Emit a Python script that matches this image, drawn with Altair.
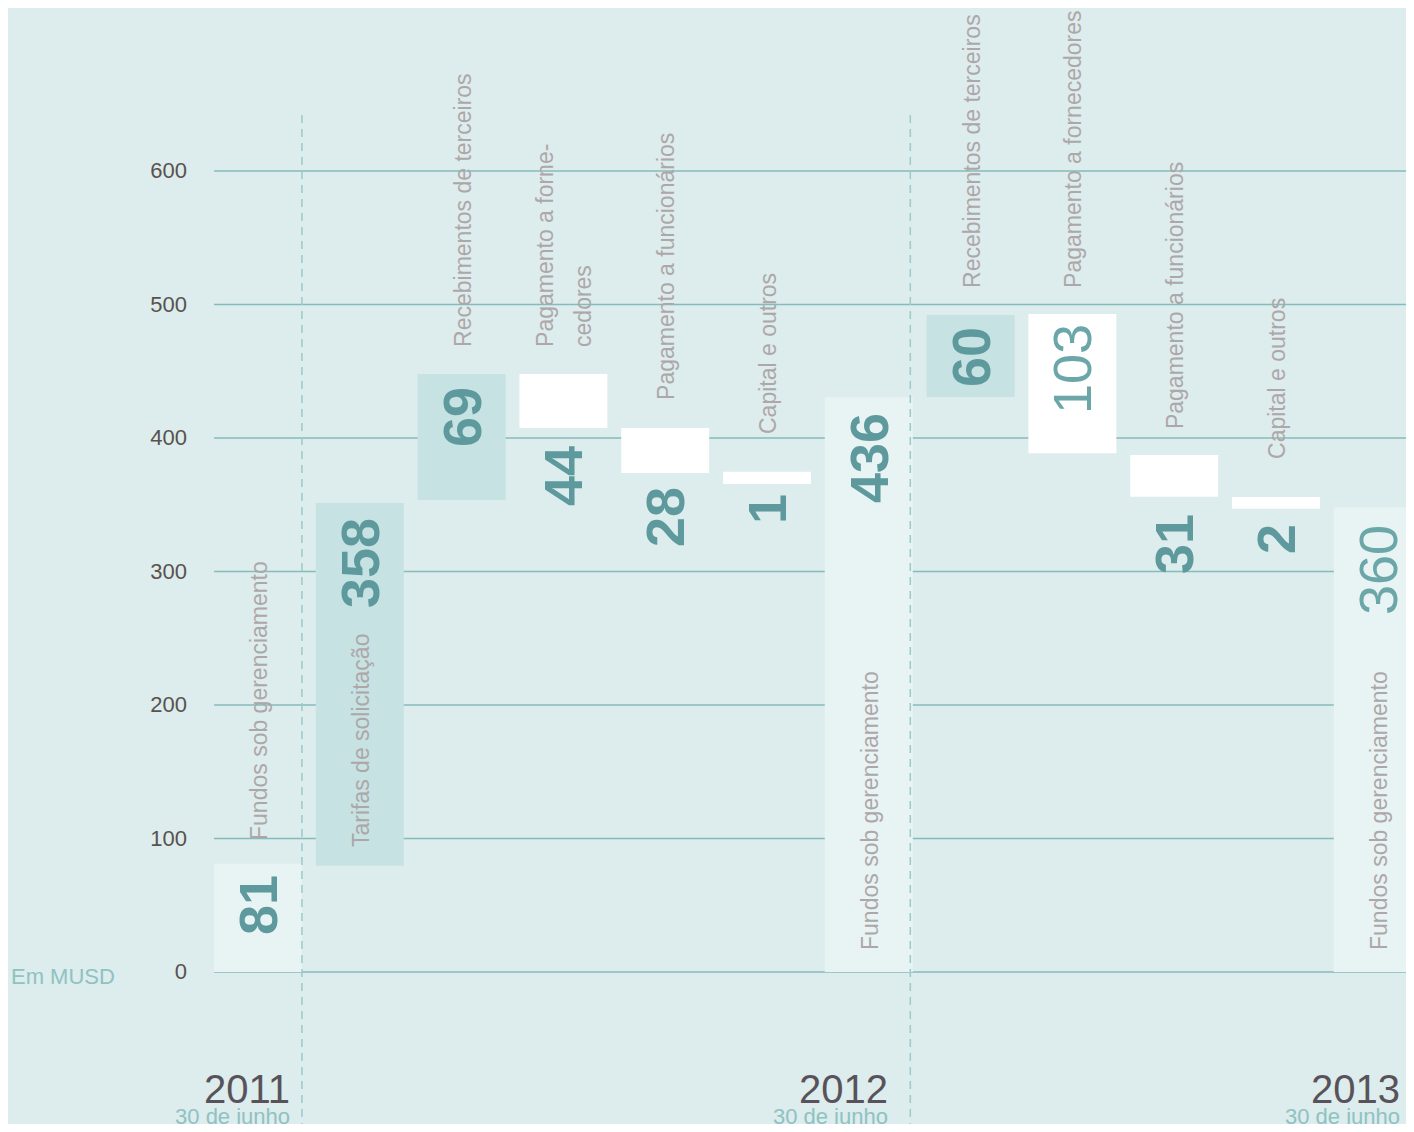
import altair as alt
import pandas as pd

# ---------------- data ----------------
categories = [
    "Fundos sob gerenciamento", "Tarifas de solicitação", "Recebimentos de terceiros",
    "Pagamento a forne-\ncedores", "Pagamento a funcionários", "Capital e outros",
    "Fundos sob gerenciamento", "Recebimentos de terceiros", "Pagamento a fornecedores",
    "Pagamento a funcionários", "Capital e outros", "Fundos sob gerenciamento",
]
kinds = ["total", "up", "up", "down", "down", "down",
         "total", "up", "down", "down", "down", "total"]
values = [81, 358, 69, 44, 28, 1, 436, 60, 103, 31, 2, 360]
bar_start = [0, 79.5, 353.6, 448.0, 407.5, 374.8, 0, 430.7, 492.9, 387.3, 355.8, 0]
bar_end = [81, 351.3, 448.0, 407.5, 373.8, 365.5, 430.5, 492.1, 388.5, 356.0, 347.0, 348.0]
value_label_pos = [50.2, 306.4, 415.7, 371.5, 340.8, 346.8, 385.0, 460.7, 451.7, 320.6, 324.3, 301.1]
value_bold = [True, True, True, True, True, True, True, True, False, True, True, False]
category_label_pos = [98.9, 93.6, 468.2, 468.2, 428.5, 403.0, 16.5, 512.4, 512.4, 406.7, 384.3, 16.5]

y_ticks = [0, 100, 200, 300, 400, 500, 600]
years = ["2011", "2012", "2013"]
year_dates = ["30 de junho", "30 de junho", "30 de junho"]
year_label_x = [0.747, 6.62, 11.65]
divider_x = [0.864, 6.84]
divider_top = 642
unit_label = ["Em MUSD"]

# ---------------- layout / style ----------------
W, H = 1398, 1116
PX_LEFT = 206          # left edge of first column inside the plot (px)
STEP = 101.8           # column step (px)
BAR_W = 88 / STEP      # bar width in column units
PX_ZERO = 964          # pixel row of value 0 inside the plot
K = 1.335              # px per unit
LINE_H = 38

BG = "#ddecec"
FONT = "Liberation Sans"

x_dom = [-PX_LEFT / STEP, (W - PX_LEFT) / STEP]
y_dom = [-(H - PX_ZERO) / K, PX_ZERO / K]
xs = alt.Scale(domain=x_dom, nice=False, zero=False)
ys = alt.Scale(domain=y_dom, nice=False, zero=False)

cols = pd.DataFrame({
    "col": list(range(len(values))),
    "kind": kinds,
    "start": bar_start,
    "end": bar_end,
    "value": [str(v) for v in values],
    "label": categories,
    "vy": value_label_pos,
    "bold": value_bold,
    "cy": category_label_pos,
    "multi": ["\n" in c for c in categories],
})

base = alt.Chart(cols).transform_calculate(
    x2=f"datum.col + {BAR_W}", xc=f"datum.col + {BAR_W / 2}",
)

grid_df = pd.DataFrame({"v": y_ticks, "x0": [0] * len(y_ticks), "lx": [-0.265] * len(y_ticks)})
grid = alt.Chart(grid_df).mark_rule(color="#84bbbd", strokeWidth=1.5).encode(
    x=alt.X("x0:Q", scale=xs, axis=None),
    x2=alt.value(W),
    y=alt.Y("v:Q", scale=ys, axis=None),
)
tick_labels = alt.Chart(grid_df).mark_text(
    align="right", baseline="middle", font=FONT, fontSize=22, color="#58534f"
).encode(
    x=alt.X("lx:Q", scale=xs, axis=None),
    y=alt.Y("v:Q", scale=ys, axis=None),
    text="v:Q",
)

bars = base.mark_rect(clip=True).encode(
    x=alt.X("col:Q", scale=xs, axis=None),
    x2="x2:Q",
    y=alt.Y("start:Q", scale=ys, axis=None),
    y2="end:Q",
    color=alt.Color("kind:N", scale=alt.Scale(domain=["total", "up", "down"],
                                              range=["#e8f3f3", "#c6e2e2", "#ffffff"]),
                    legend=None),
)

div_df = pd.DataFrame({"x": divider_x, "top": [divider_top] * len(divider_x)})
dividers = alt.Chart(div_df).mark_rule(color="#9ccacb", strokeWidth=1.5, strokeDash=[8, 6]).encode(
    x=alt.X("x:Q", scale=xs, axis=None),
    y=alt.Y("top:Q", scale=ys, axis=None),
    y2=alt.value(H),
)

val_bold = base.transform_filter("datum.bold").mark_text(
    angle=270, align="center", baseline="middle", font=FONT, fontSize=54,
    fontWeight="bold", color="#5e9a9d", dy=3
).encode(
    x=alt.X("xc:Q", scale=xs, axis=None),
    y=alt.Y("vy:Q", scale=ys, axis=None),
    text="value:N",
)
val_reg = base.transform_filter("!datum.bold").mark_text(
    angle=270, align="center", baseline="middle", font=FONT, fontSize=54,
    color="#6ba7a9", dy=3
).encode(
    x=alt.X("xc:Q", scale=xs, axis=None),
    y=alt.Y("vy:Q", scale=ys, axis=None),
    text="value:N",
)

cat_single = base.transform_filter("!datum.multi").mark_text(
    angle=270, align="left", baseline="middle", font=FONT, fontSize=23,
    color="#ada7a9", dy=2
).encode(
    x=alt.X("xc:Q", scale=xs, axis=None),
    y=alt.Y("cy:Q", scale=ys, axis=None),
    text="label:N",
)
cat_multi = base.transform_filter("datum.multi").mark_text(
    angle=270, align="left", baseline="middle", font=FONT, fontSize=23,
    color="#ada7a9", lineBreak="\n", lineHeight=LINE_H, dy=2 - LINE_H / 2
).encode(
    x=alt.X("xc:Q", scale=xs, axis=None),
    y=alt.Y("cy:Q", scale=ys, axis=None),
    text="label:N",
)

yr_df = pd.DataFrame({"year": years, "date": year_dates, "x": year_label_x,
                      "yy": [-98.1] * 3, "dy": [-113.6] * 3})
year_text = alt.Chart(yr_df).mark_text(
    align="right", baseline="alphabetic", font=FONT, fontSize=40, color="#58535a"
).encode(
    x=alt.X("x:Q", scale=xs, axis=None),
    y=alt.Y("yy:Q", scale=ys, axis=None),
    text="year:N",
)
date_text = alt.Chart(yr_df).mark_text(
    align="right", baseline="alphabetic", font=FONT, fontSize=22, color="#8ec2c3"
).encode(
    x=alt.X("x:Q", scale=xs, axis=None),
    y=alt.Y("dy:Q", scale=ys, axis=None),
    text="date:N",
)

unit_df = pd.DataFrame({"t": unit_label, "x": [-1.994], "y": [-9.0]})
unit_text = alt.Chart(unit_df).mark_text(
    align="left", baseline="alphabetic", font=FONT, fontSize=22, color="#8ec2c3"
).encode(
    x=alt.X("x:Q", scale=xs, axis=None),
    y=alt.Y("y:Q", scale=ys, axis=None),
    text="t:N",
)

chart = alt.layer(
    grid, bars, dividers, tick_labels, cat_single, cat_multi, val_bold, val_reg,
    year_text, date_text, unit_text
).properties(
    width=W, height=H, background=BG, padding=0, autosize="none"
).configure_view(stroke=None)

chart.save("out.html", embed_options={"renderer": "svg", "actions": False})
